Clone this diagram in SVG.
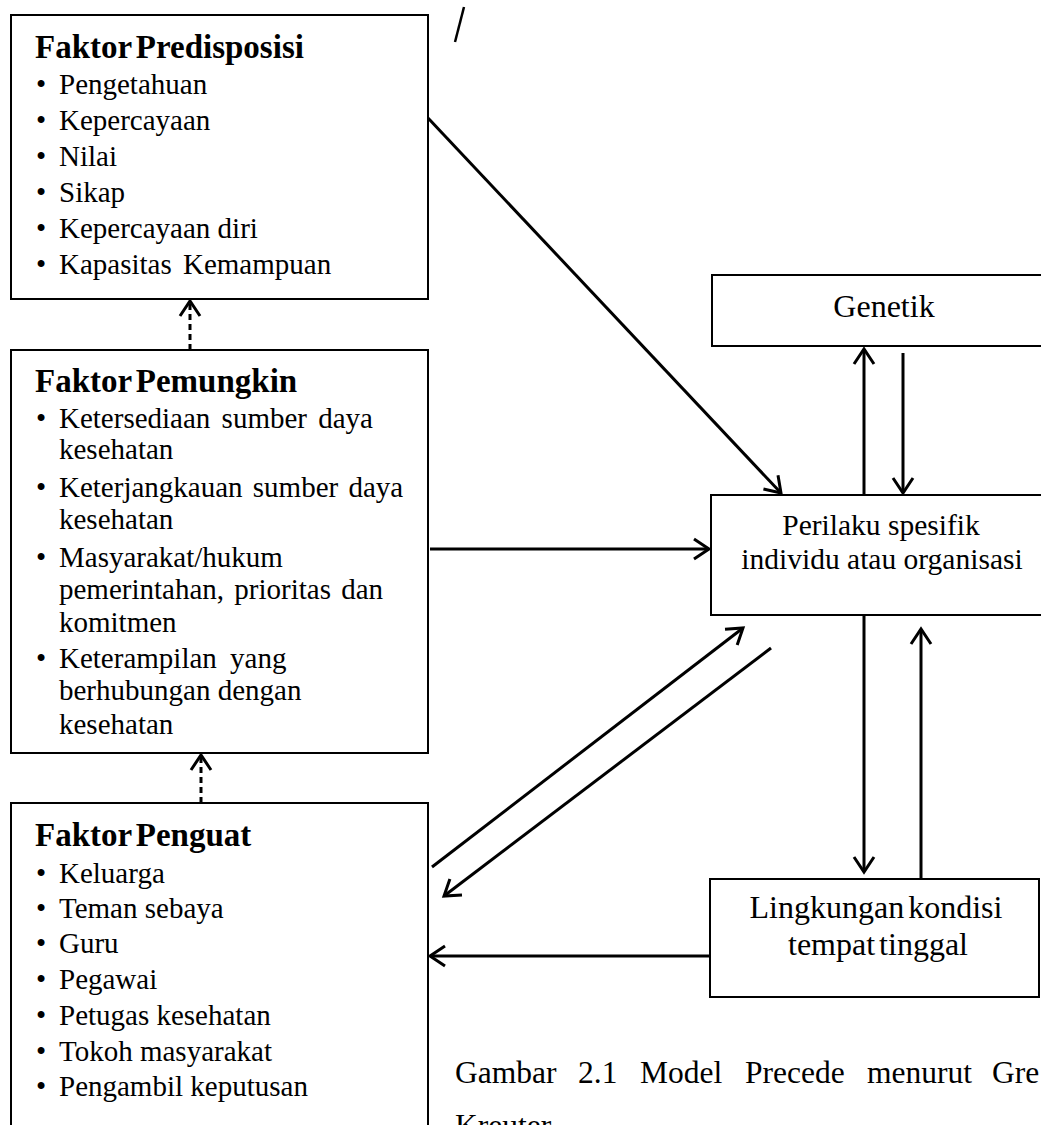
<svg xmlns="http://www.w3.org/2000/svg" width="1041" height="1125" viewBox="0 0 1041 1125">
<style>
text{font-family:'Times New Roman',serif;fill:#000}
.t{font-size:29px}
.h{font-size:33px;font-weight:bold;word-spacing:-4px}
.c{text-anchor:middle}
.box{fill:#fff;stroke:#000;stroke-width:2}
.ar{stroke:#000;stroke-width:3;fill:none;marker-end:url(#ah)}
.da{stroke:#000;stroke-width:3;fill:none;stroke-dasharray:6 4;marker-end:url(#ah)}
</style>
<defs>
<marker id="ah" markerUnits="userSpaceOnUse" markerWidth="40" markerHeight="40" refX="0" refY="0" viewBox="-20 -20 40 40" orient="auto" overflow="visible">
<path d="M-15,-10 L0,0 L-15,10" fill="none" stroke="#000" stroke-width="3" stroke-linejoin="miter"/>
</marker>
</defs>
<rect width="1041" height="1125" fill="#fff"/>
<line x1="464" y1="7" x2="455" y2="42" stroke="#000" stroke-width="2.5"/>
<g id="predisposisi">
<rect class="box" x="11" y="15" width="417" height="284"/>
<text class="h" x="35" y="58">Faktor Predisposisi</text>
<text class="t" x="36" y="94">•</text><text class="t" x="59" y="94">Pengetahuan</text>
<text class="t" x="36" y="130">•</text><text class="t" x="59" y="130">Kepercayaan</text>
<text class="t" x="36" y="166">•</text><text class="t" x="59" y="166">Nilai</text>
<text class="t" x="36" y="202">•</text><text class="t" x="59" y="202">Sikap</text>
<text class="t" x="36" y="238">•</text><text class="t" x="59" y="238">Kepercayaan diri</text>
<text class="t" x="36" y="274">•</text><text class="t" x="59" y="274" word-spacing="4">Kapasitas Kemampuan</text>
</g>
<g id="pemungkin">
<rect class="box" x="11" y="350" width="417" height="403"/>
<text class="h" x="35" y="392">Faktor Pemungkin</text>
<text class="t" x="36" y="428">•</text><text class="t" x="59" y="428" word-spacing="4">Ketersediaan sumber daya</text>
<text class="t" x="59" y="459">kesehatan</text>
<text class="t" x="36" y="497">•</text><text class="t" x="59" y="497" word-spacing="3">Keterjangkauan sumber daya</text>
<text class="t" x="59" y="529">kesehatan</text>
<text class="t" x="36" y="567">•</text><text class="t" x="59" y="567">Masyarakat/hukum</text>
<text class="t" x="59" y="599" word-spacing="3">pemerintahan, prioritas dan</text>
<text class="t" x="59" y="632">komitmen</text>
<text class="t" x="36" y="668">•</text><text class="t" x="59" y="668" word-spacing="6">Keterampilan yang</text>
<text class="t" x="59" y="700">berhubungan dengan</text>
<text class="t" x="59" y="734">kesehatan</text>
</g>
<g id="penguat">
<rect class="box" x="11" y="803" width="417" height="400"/>
<text class="h" x="35" y="846">Faktor Penguat</text>
<text class="t" x="36" y="883">•</text><text class="t" x="59" y="883">Keluarga</text>
<text class="t" x="36" y="918">•</text><text class="t" x="59" y="918">Teman sebaya</text>
<text class="t" x="36" y="953">•</text><text class="t" x="59" y="953">Guru</text>
<text class="t" x="36" y="989">•</text><text class="t" x="59" y="989">Pegawai</text>
<text class="t" x="36" y="1025">•</text><text class="t" x="59" y="1025">Petugas kesehatan</text>
<text class="t" x="36" y="1061">•</text><text class="t" x="59" y="1061">Tokoh masyarakat</text>
<text class="t" x="36" y="1096">•</text><text class="t" x="59" y="1096">Pengambil keputusan</text>
</g>
<g id="genetik">
<rect class="box" x="712" y="275" width="340" height="71"/>
<text class="c" x="884" y="317" font-size="32">Genetik</text>
</g>
<g id="perilaku">
<rect class="box" x="711" y="495" width="340" height="120"/>
<text class="c" x="881" y="535" font-size="29.5">Perilaku spesifik</text>
<text class="c" x="882" y="569" font-size="29.5">individu atau organisasi</text>
</g>
<g id="lingkungan">
<rect class="box" x="710" y="879" width="329" height="118"/>
<text class="c" x="876" y="918" font-size="32" word-spacing="-4">Lingkungan kondisi</text>
<text class="c" x="878" y="955" font-size="32" word-spacing="-4">tempat tinggal</text>
</g>
<g id="connectors">
<line class="ar" x1="428" y1="118" x2="781" y2="493"/>
<line class="ar" x1="430" y1="549" x2="709" y2="549"/>
<line class="ar" x1="432" y1="867" x2="743" y2="628"/>
<line class="ar" x1="771" y1="648" x2="444" y2="896"/>
<line class="ar" x1="710" y1="956" x2="430" y2="956"/>
<line class="ar" x1="864" y1="495" x2="864" y2="349"/>
<line class="ar" x1="903" y1="353" x2="903" y2="493"/>
<line class="ar" x1="864" y1="615" x2="864" y2="872"/>
<line class="ar" x1="921" y1="880" x2="921" y2="629"/>
<line class="da" x1="190" y1="350" x2="190" y2="301"/>
<line class="da" x1="201" y1="803" x2="201" y2="755"/>
</g>
<g id="caption">
<text y="1083" font-size="31.5"><tspan x="455">Gambar</tspan><tspan x="578">2.1</tspan><tspan x="640">Model</tspan><tspan x="745">Precede</tspan><tspan x="867">menurut</tspan><tspan x="992">Gre</tspan></text>
<text x="455" y="1136" font-size="31.5">Kreuter</text>
</g>
</svg>
